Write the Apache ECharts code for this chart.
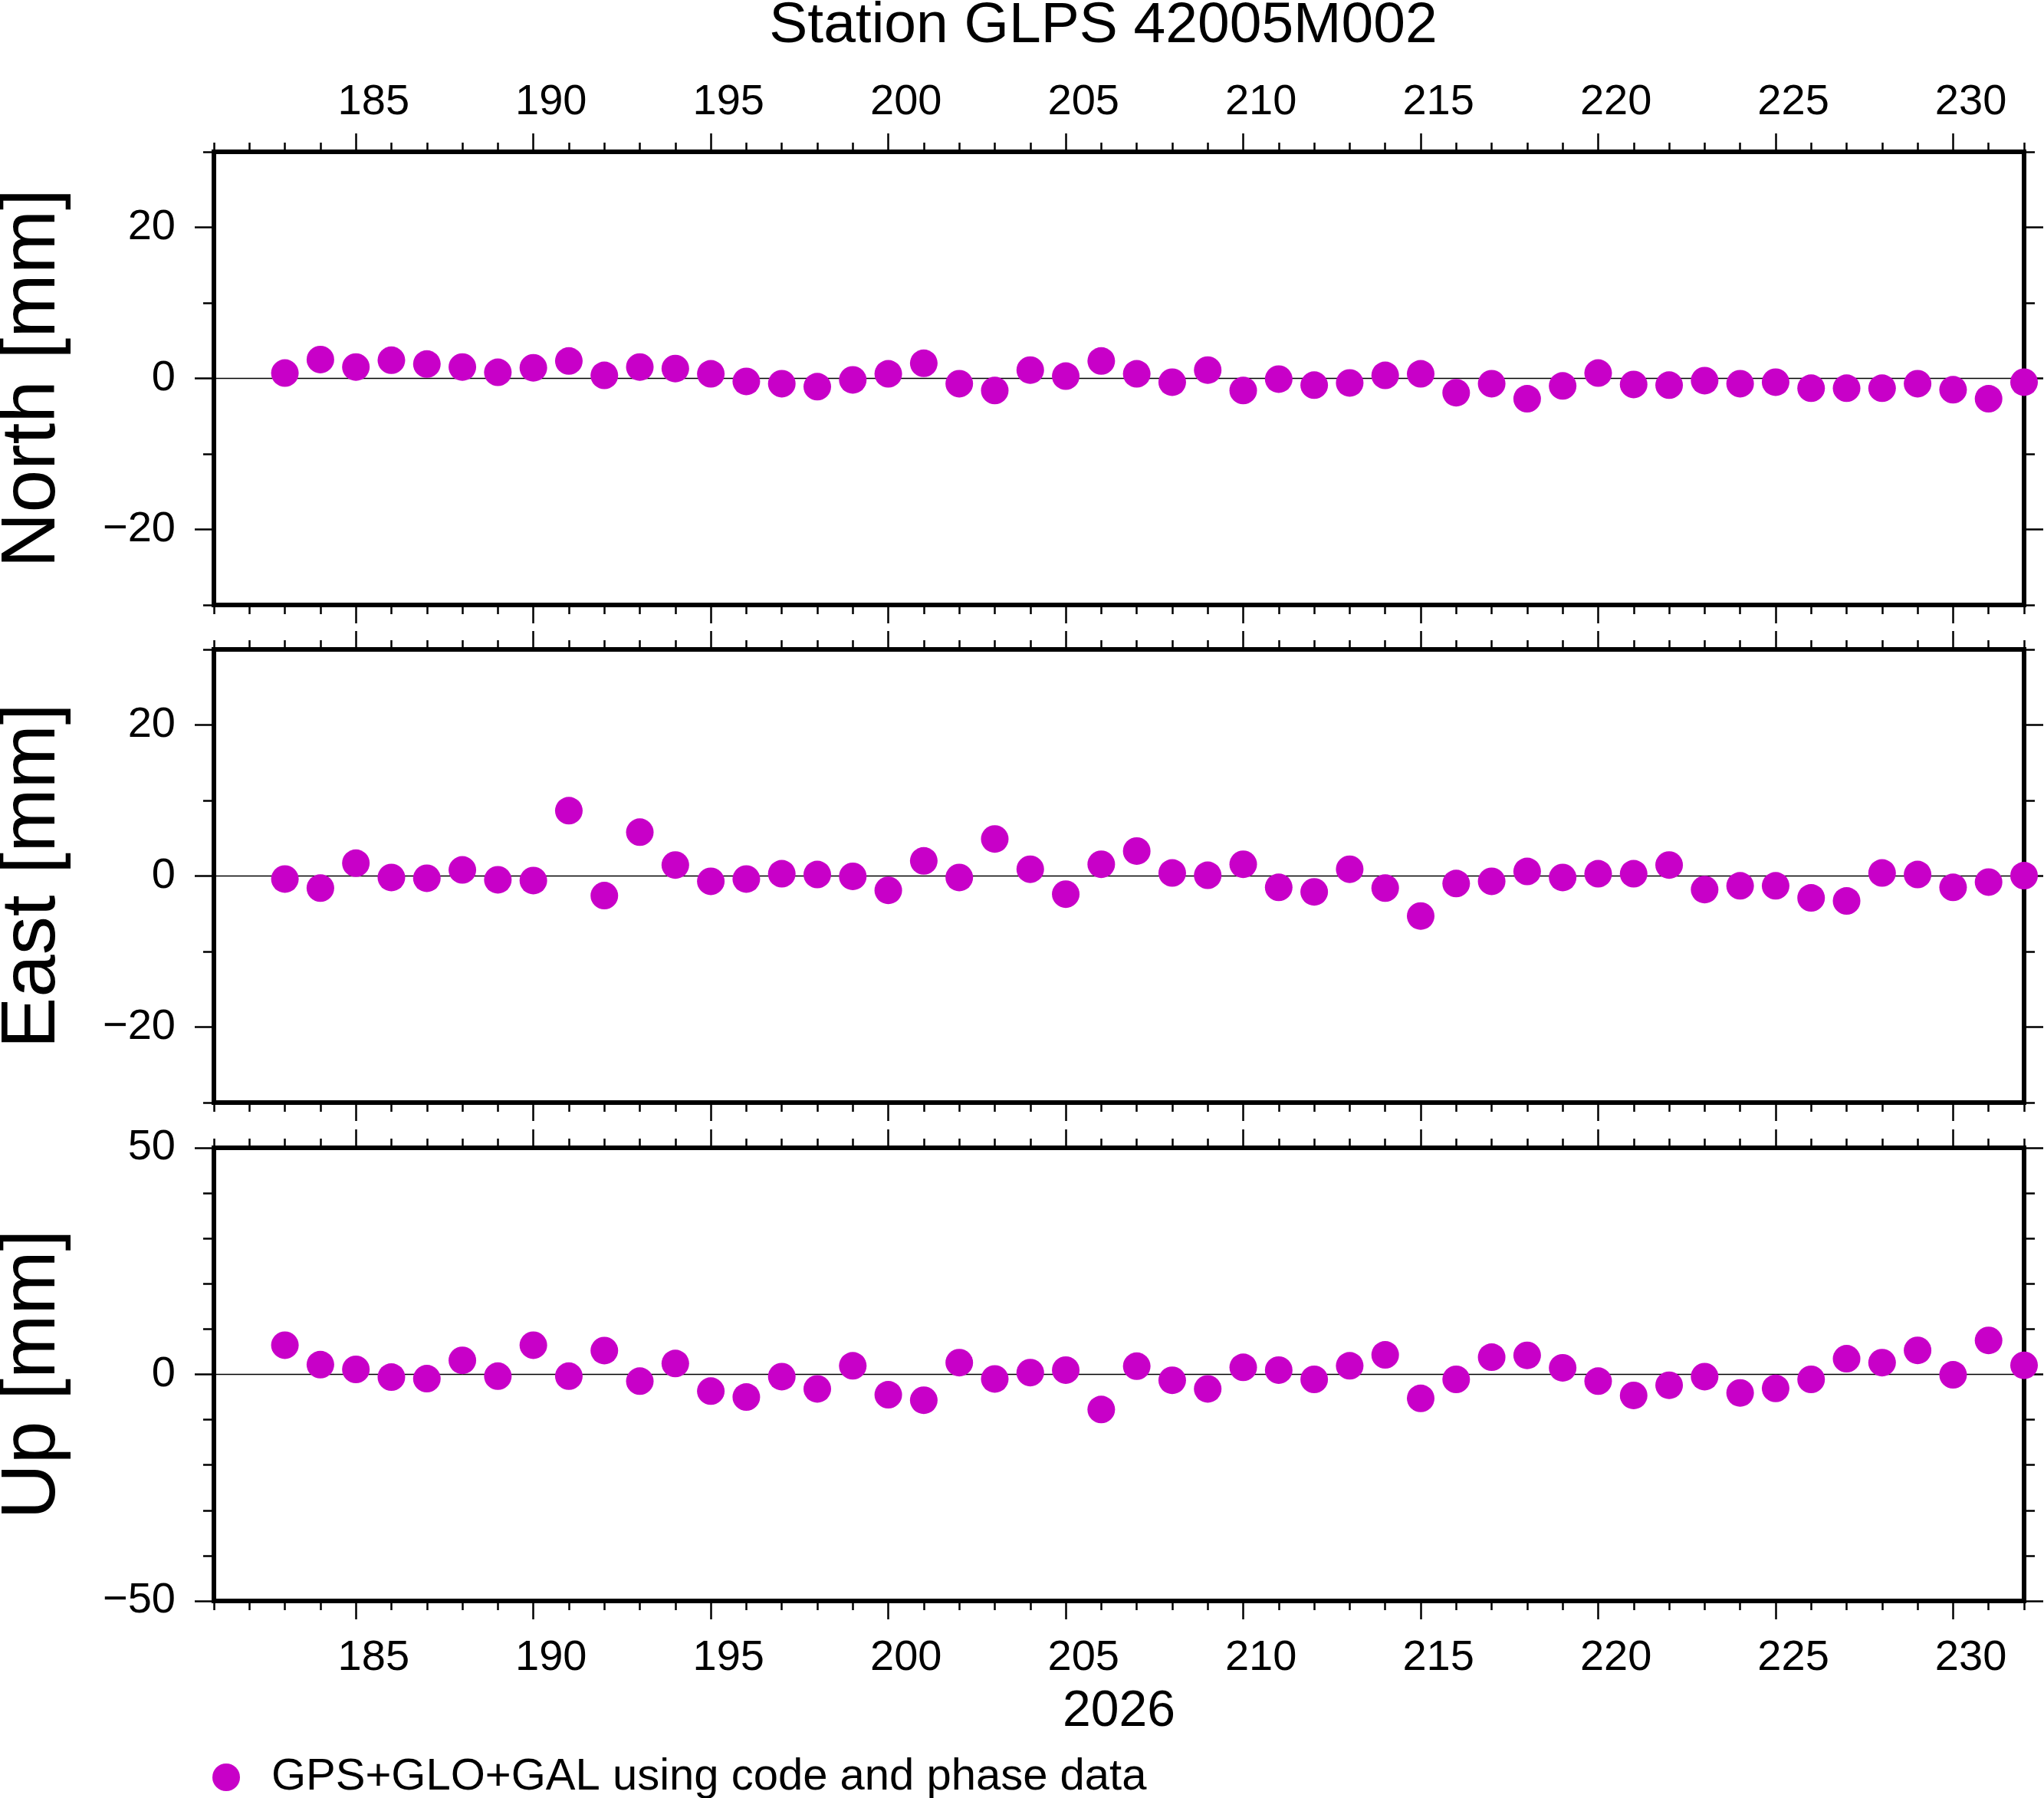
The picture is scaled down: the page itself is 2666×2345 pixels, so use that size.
<!DOCTYPE html>
<html>
<head>
<meta charset="utf-8">
<title>Station GLPS 42005M002</title>
<script src="https://cdn.jsdelivr.net/npm/echarts@6/dist/echarts.min.js"></script>
<style>
  html, body { margin: 0; padding: 0; background: #fff; }
  #main { width: 2666px; height: 2345px; }
</style>
</head>
<body>
<div id="main"></div>
<script>
// day of year 2026
var days = [183, 184, 185, 186, 187, 188, 189, 190, 191, 192,
  193, 194, 195, 196, 197, 198, 199, 200, 201, 202,
  203, 204, 205, 206, 207, 208, 209, 210, 211, 212,
  213, 214, 215, 216, 217, 218, 219, 220, 221, 222,
  223, 224, 225, 226, 227, 228, 229, 230, 231, 232];
// residuals [mm]
var north = [0.7, 2.5, 1.5, 2.4, 1.9, 1.5, 0.8, 1.4, 2.3, 0.4,
  1.5, 1.3, 0.6, -0.4, -0.7, -1.1, -0.2, 0.6, 2.0, -0.7,
  -1.6, 1.1, 0.3, 2.3, 0.6, -0.5, 1.1, -1.6, -0.1, -0.9,
  -0.6, 0.4, 0.6, -1.9, -0.7, -2.7, -1.0, 0.7, -0.8, -0.9,
  -0.3, -0.7, -0.5, -1.3, -1.3, -1.3, -0.7, -1.5, -2.7, -0.5];
var east = [-0.4, -1.6, 1.7, -0.2, -0.3, 0.8, -0.5, -0.6, 8.65, -2.6,
  5.8, 1.45, -0.7, -0.4, 0.3, 0.2, -0.05, -1.9, 2.0, -0.2,
  4.9, 0.9, -2.4, 1.55, 3.3, 0.4, 0.1, 1.55, -1.5, -2.1,
  0.9, -1.6, -5.3, -1.0, -0.7, 0.6, -0.2, 0.3, 0.3, 1.45,
  -1.8, -1.3, -1.3, -2.9, -3.3, 0.4, 0.2, -1.5, -0.8, 0.05];
var up = [6.45, 2.15, 1.1, -0.6, -0.95, 3.1, -0.4, 6.45, -0.4, 5.25,
  -1.5, 2.4, -3.7, -5.0, -0.5, -3.2, 1.9, -4.5, -5.7, 2.6,
  -1.0, 0.4, 0.95, -7.75, 1.8, -1.3, -3.2, 1.55, 0.95, -1.1,
  1.9, 4.3, -5.3, -1.1, 3.8, 4.2, 1.45, -1.5, -4.65, -2.4,
  -0.5, -4.1, -3.1, -1.1, 3.45, 2.6, 5.3, -0.1, 7.5, 2.0];

var xMin = 181, xMax = 232;
var xMajorTicks = [185, 190, 195, 200, 205, 210, 215, 220, 225, 230];
// GMT annotates each day in the middle of its interval
var xLabelValues = [185.5, 190.5, 195.5, 200.5, 205.5, 210.5, 215.5, 220.5, 225.5, 230.5];
var neTicks = [-20, 0, 20];
var upTicks = [-50, 0, 50];

var seriesName = 'GPS+GLO+GAL using code and phase data';
var FONT = 'Liberation Sans';
var DOT = '#c800c8';

var xMinorTicks = [];
for (var d = xMin; d <= xMax; d++) xMinorTicks.push(d);

var panels = [
  { name: 'North [mm]', values: north, min: -30, max: 30, ticks: neTicks, top: 198 },
  { name: 'East [mm]', values: east, min: -30, max: 30, ticks: neTicks, top: 847 },
  { name: 'Up [mm]', values: up, min: -50, max: 50, ticks: upTicks, top: 1497 }
];

var chartDom = document.getElementById('main');
var myChart = echarts.init(chartDom, null, { renderer: 'canvas' });

var tickStyle = { color: '#000', width: 2.5 };
var grids = [], xAxes = [], yAxes = [], series = [];

panels.forEach(function (p, g) {
  grids.push({
    left: 279, right: 26, top: p.top, height: 591,
    show: true, borderColor: '#000', borderWidth: 6,
    backgroundColor: 'transparent',
    outerBoundsMode: 'none', containLabel: false
  });

  ['bottom', 'top'].forEach(function (pos) {
    var withLabels = (g === 0 && pos === 'top') || (g === 2 && pos === 'bottom');
    xAxes.push({
      gridIndex: g, type: 'value', position: pos, min: xMin, max: xMax,
      axisLine: { show: false, onZero: false },
      splitLine: { show: false },
      axisTick: { show: true, customValues: xMajorTicks, length: 24, lineStyle: tickStyle },
      axisLabel: {
        show: withLabels, customValues: xLabelValues, margin: pos === 'top' ? 36 : 47,
        fontSize: 56, fontFamily: FONT, color: '#000',
        formatter: function (v) { return String(Math.floor(v)); }
      },
      name: (g === 2 && pos === 'bottom') ? '2026' : '',
      nameLocation: 'middle', nameGap: 112, nameMoveOverlap: false,
      nameTextStyle: { fontSize: 66, fontFamily: FONT, color: '#000' }
    });
    xAxes.push({
      gridIndex: g, type: 'value', position: pos, min: xMin, max: xMax,
      axisLine: { show: false, onZero: false },
      splitLine: { show: false },
      axisTick: { show: true, customValues: xMinorTicks, length: 12, lineStyle: tickStyle },
      axisLabel: { show: false }
    });
  });

  ['left', 'right'].forEach(function (pos) {
    yAxes.push({
      gridIndex: g, type: 'value', position: pos, min: p.min, max: p.max,
      axisLine: { show: false, onZero: false },
      splitLine: { show: false },
      axisTick: { show: true, customValues: p.ticks, length: 25, lineStyle: tickStyle },
      axisLabel: {
        show: pos === 'left', customValues: p.ticks, margin: 50,
        fontSize: 56, fontFamily: FONT, color: '#000',
        formatter: function (v) { return String(v).replace('-', '\u2212'); }
      },
      name: pos === 'left' ? p.name : '',
      nameLocation: 'middle', nameRotate: 90, nameGap: 186, nameMoveOverlap: false,
      nameTextStyle: { fontSize: 100, fontFamily: FONT, color: '#000' }
    });
    yAxes.push({
      gridIndex: g, type: 'value', position: pos, min: p.min, max: p.max, interval: 10,
      axisLine: { show: false, onZero: false },
      splitLine: { show: false },
      axisTick: { show: true, length: 14, lineStyle: tickStyle },
      axisLabel: { show: false }
    });
  });

  // zero reference line
  yAxes.push({
    gridIndex: g, type: 'value', position: 'left', min: p.min, max: p.max, interval: p.max,
    axisLine: { show: false, onZero: false },
    axisTick: { show: false },
    axisLabel: { show: false },
    splitLine: { show: true, lineStyle: { color: '#000', width: 1.3 } }
  });

  series.push({
    name: seriesName,
    type: 'scatter',
    xAxisIndex: g * 4,
    yAxisIndex: g * 5,
    symbol: 'circle',
    symbolSize: 36,
    itemStyle: { color: DOT, opacity: 1 },
    z: 5,
    clip: false,
    data: days.map(function (day, i) { return [day, p.values[i]]; })
  });
});

var option = {
  backgroundColor: '#fff',
  animation: false,
  title: {
    text: 'Station GLPS 42005M002',
    left: 1439, top: -3, padding: 0, textAlign: 'center',
    textStyle: { fontSize: 75, fontWeight: 'normal', fontFamily: FONT, color: '#000' }
  },
  legend: {
    data: [seriesName],
    left: 277, top: 2289, padding: 0,
    icon: 'circle', itemWidth: 36, itemHeight: 36,
    textStyle: { fontSize: 58, fontFamily: FONT, color: '#000', padding: [0, 0, 0, 36] }
  },
  grid: grids,
  xAxis: xAxes,
  yAxis: yAxes,
  series: series
};

option && myChart.setOption(option);

window.addEventListener('resize', function () {
  myChart.resize();
});
</script>
</body>
</html>
